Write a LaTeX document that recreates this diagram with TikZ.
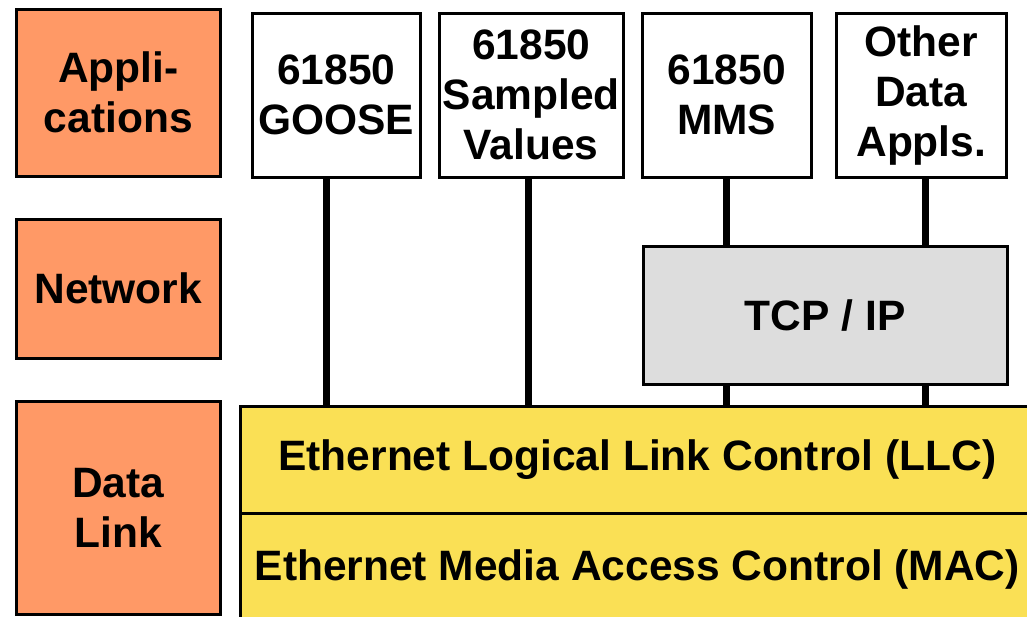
\documentclass[tikz,border=0pt]{standalone}
\usepackage{fontspec}
\setmainfont{Liberation Sans}
\usetikzlibrary{positioning}
\definecolor{colLayer}{RGB}{255,153,102}
\definecolor{colLink}{RGB}{250,224,85}
\definecolor{colNet}{RGB}{221,221,221}
\tikzstyle{layer}=[draw, fill=colLayer, line width=2.5pt, minimum width=204pt, inner sep=0pt, align=center]
\tikzstyle{appl}=[draw, fill=white, line width=2.5pt, minimum height=164pt, inner sep=0pt, align=center]
\tikzstyle{net}=[draw, fill=colNet, line width=2.5pt, minimum width=364pt, minimum height=138pt, inner sep=0pt]
\tikzstyle{link}=[draw, fill=colLink, line width=2.5pt, minimum width=794pt, inner sep=0pt]
\tikzstyle{wire}=[line width=7pt]
\begin{document}
\begin{tikzpicture}[x=1pt,y=1pt,font=\bfseries\fontsize{42.5}{50}\selectfont]
    \useasboundingbox (0,0) rectangle (1027,-616);
    \clip (0,0) rectangle (1027,-616);
    % layer labels
    \node [layer, minimum height=167pt, anchor=north west] (apps) at (15,-8) {Appli-\\cations};
    \node [layer, minimum height=139pt, below=40.5pt of apps] (netw) {Network};
    \node [layer, minimum height=213pt, below=40.5pt of netw] (dlink) {Data\\Link};
    % applications
    \node [appl, minimum width=168pt, anchor=north west] (goose) at (251,-12) {61850\\GOOSE};
    \node [appl, minimum width=184pt, right=16.5pt of goose] (sv) {61850\\Sampled\\Values};
    \node [appl, minimum width=169pt, right=16.5pt of sv] (mms) {61850\\MMS};
    \node [appl, minimum width=170pt, right=22.5pt of mms] (other) {Other\\Data\\Appls.};
    % network and data link
    \node [net, anchor=north west] (tcp) at (642,-245) {TCP / IP};
    \node [link, minimum height=107pt, anchor=north west] (llc) at (239,-405) {Ethernet Logical Link Control (LLC)};
    \node [link, minimum height=112pt, below=-2.5pt of llc] (mac) {Ethernet Media Access Control (MAC)};
    % wires
    \draw [wire] ([xshift=-10pt]goose.south) -- ([xshift=-10pt]goose.south |- llc.north);
    \draw [wire] ([xshift=-3pt]sv.south) -- ([xshift=-3pt]sv.south |- llc.north);
    \draw [wire] (mms.south) -- (mms.south |- tcp.north);
    \draw [wire] ([xshift=4pt]other.south) -- ([xshift=4pt]other.south |- tcp.north);
    \draw [wire] (mms.south |- tcp.south) -- (mms.south |- llc.north);
    \draw [wire] ([xshift=4pt]other.south |- tcp.south) -- ([xshift=4pt]other.south |- llc.north);
\end{tikzpicture}
\end{document}
